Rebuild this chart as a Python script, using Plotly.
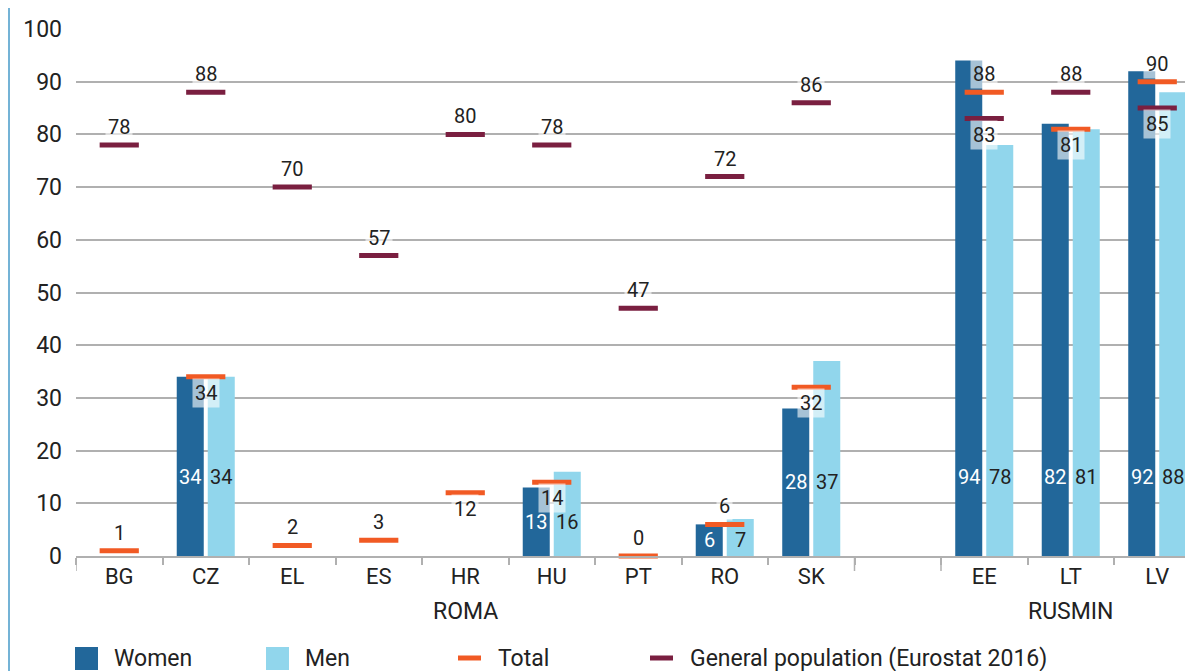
import plotly.graph_objects as go

# ---------------- data ----------------
categories = ["BG", "CZ", "EL", "ES", "HR", "HU", "PT", "RO", "SK", " ", "EE", "LT", "LV"]
women = [None, 34, None, None, None, 13, None, 6, 28, None, 94, 82, 92]
men = [None, 34, None, None, None, 16, None, 7, 37, None, 78, 81, 88]
total = [1, 34, 2, 3, 12, 14, 0, 6, 32, None, 88, 81, 90]
general_pop = [78, 88, 70, 57, 80, 78, 47, 72, 86, None, 83, 88, 85]
groups = [("ROMA", ["BG", "CZ", "EL", "ES", "HR", "HU", "PT", "RO", "SK"]),
          ("RUSMIN", ["EE", "LT", "LV"])]
legend_labels = ["Women", "Men", "Total", "General population (Eurostat 2016)"]

# label placement settings (style, not data)
total_label_below = {"CZ", "HR", "HU", "SK", "LT"}
gp_label_below = {"EE", "LV"}

# ---------------- style ----------------
C_WOMEN = "#22679a"
C_MEN = "#91d6ec"
C_TOTAL = "#f15a24"
C_GP = "#7a1f40"
C_GRID = "#b0b0b0"
C_TEXT = "#222222"
FONT = "Roboto"

PAGE_OFF = 8                      # browser body margin
PAGE_W, PAGE_H = 1193, 671
W, H = PAGE_W - PAGE_OFF, PAGE_H - PAGE_OFF
PLOT_L, PLOT_T, PLOT_B = 76, 29, 556   # page pixels
ML, MT, MB, MR = PLOT_L - PAGE_OFF, PLOT_T - PAGE_OFF, PAGE_H - PLOT_B, 0
PW, PH = W - ML - MR, H - MT - MB
CAT_PX = 86.5
x_max = -0.5 + PW / CAT_PX

def px_to_paper_x(px):
    return (px - PLOT_L) / PW

def px_to_paper_y(py):
    return (PLOT_B - py) / PH

fig = go.Figure()
fig.add_trace(go.Bar(x=categories, y=women, name="Women", marker_color=C_WOMEN,
                     marker_line_width=0, showlegend=False))
fig.add_trace(go.Bar(x=categories, y=men, name="Men", marker_color=C_MEN,
                     marker_line_width=0, showlegend=False))
fig.add_trace(go.Scatter(x=categories, y=total, mode="markers", name="Total",
                         marker=dict(symbol="line-ew", size=28,
                                     line=dict(color=C_TOTAL, width=5)),
                         cliponaxis=False, showlegend=False))
fig.add_trace(go.Scatter(x=categories, y=general_pop, mode="markers",
                         name="General population (Eurostat 2016)",
                         marker=dict(symbol="line-ew", size=28,
                                     line=dict(color=C_GP, width=5)),
                         cliponaxis=False, showlegend=False))

annotations = []
label_font = dict(family=FONT, size=20, color=C_TEXT)

# bar value labels
for i, c in enumerate(categories):
    w, m = women[i], men[i]
    if w is None or m is None:
        continue
    ly = min(15, min(w, m) / 2)
    annotations.append(dict(x=c, y=ly, text=str(w), showarrow=False, xshift=-15.5,
                            font=dict(family=FONT, size=20, color="white")))
    annotations.append(dict(x=c, y=ly, text=str(m), showarrow=False, xshift=15.5,
                            font=label_font))

# total / general population labels
def marker_labels(values, below_set):
    for i, c in enumerate(categories):
        v = values[i]
        if v is None:
            continue
        shift = -16 if c in below_set else 18
        annotations.append(dict(x=c, y=v, text=str(round(v)), showarrow=False,
                                yshift=shift, font=label_font,
                                bgcolor="rgba(255,255,255,0.6)", borderpad=2))

marker_labels(total, total_label_below)
marker_labels(general_pop, gp_label_below)

# group labels
for name, cats in groups:
    idx = [categories.index(c) for c in cats]
    annotations.append(dict(x=(idx[0] + idx[-1]) / 2, xref="x", y=px_to_paper_y(611),
                            yref="paper", yanchor="middle", text=name, showarrow=False,
                            font=dict(family=FONT, size=23, color=C_TEXT)))

shapes = []
# long group separator ticks
seps = [categories.index(groups[0][1][0]) - 0.5,
        categories.index(groups[0][1][-1]) + 0.5,
        categories.index(groups[1][1][0]) - 0.5]
for s in seps:
    shapes.append(dict(type="line", xref="x", yref="paper", x0=s, x1=s,
                       y0=0, y1=px_to_paper_y(571), line=dict(color=C_GRID, width=1.5)))

# left blue frame line
shapes.append(dict(type="line", xref="paper", yref="paper",
                   x0=px_to_paper_x(PAGE_OFF + 1), x1=px_to_paper_x(PAGE_OFF + 1),
                   y0=px_to_paper_y(PAGE_H), y1=px_to_paper_y(PAGE_OFF),
                   line=dict(color="#74b3d6", width=2)))

# custom legend
leg_x = [75, 266, 458, 650]
leg_y = 659
for k, lab in enumerate(legend_labels):
    x0 = leg_x[k]
    if k < 2:
        shapes.append(dict(type="rect", xref="paper", yref="paper",
                           x0=px_to_paper_x(x0), x1=px_to_paper_x(x0 + 23),
                           y0=px_to_paper_y(670), y1=px_to_paper_y(647),
                           fillcolor=[C_WOMEN, C_MEN][k], line=dict(width=0)))
        tx = x0 + 37
    else:
        shapes.append(dict(type="line", xref="paper", yref="paper",
                           x0=px_to_paper_x(x0), x1=px_to_paper_x(x0 + 23),
                           y0=px_to_paper_y(leg_y - 1), y1=px_to_paper_y(leg_y - 1),
                           line=dict(color=[C_TOTAL, C_GP][k - 2], width=5)))
        tx = x0 + 38
    annotations.append(dict(x=px_to_paper_x(tx), y=px_to_paper_y(leg_y), xref="paper",
                            yref="paper", xanchor="left", yanchor="middle", text=lab,
                            showarrow=False, font=dict(family=FONT, size=23, color=C_TEXT)))

fig.update_layout(
    width=W, height=H, autosize=False,
    margin=dict(l=ML, r=MR, t=MT, b=MB, pad=0),
    paper_bgcolor="white", plot_bgcolor="white",
    barmode="group", bargap=0.283, bargroupgap=0.129,
    font=dict(family=FONT, color=C_TEXT),
    annotations=annotations, shapes=shapes, showlegend=False,
    xaxis=dict(type="category", categoryorder="array", categoryarray=categories,
               range=[-0.5, x_max], showgrid=False, showline=True, linecolor=C_GRID,
               linewidth=1.5, ticks="outside", tickson="boundaries", ticklen=7,
               tickcolor=C_GRID, tickwidth=1.5,
               tickfont=dict(family=FONT, size=22, color=C_TEXT)),
    yaxis=dict(range=[0, 100], dtick=10, showgrid=True, gridcolor=C_GRID, gridwidth=1.5,
               zeroline=False, showline=False, ticks="", ticklabelstandoff=13,
               tickfont=dict(family=FONT, size=23, color=C_TEXT)),
)

fig.write_html("out.html")
